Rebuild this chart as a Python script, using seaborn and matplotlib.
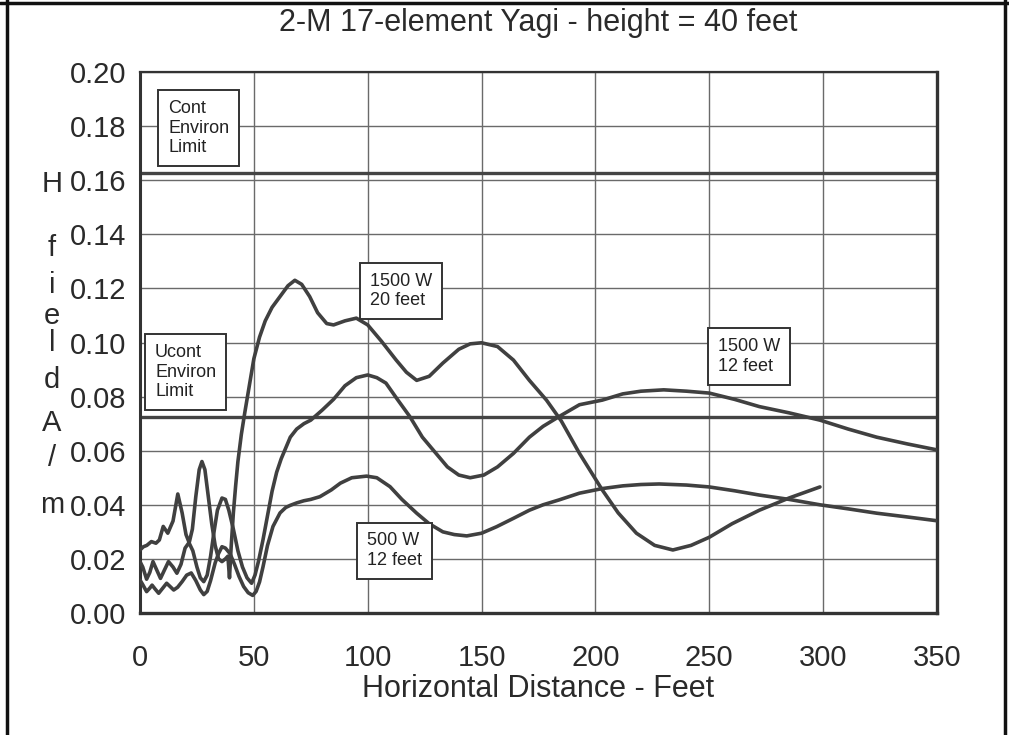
import matplotlib
matplotlib.use("Agg")
import matplotlib.pyplot as plt
from matplotlib.lines import Line2D
import seaborn as sns
import pandas as pd

# ---------------- data ----------------
title = "2-M 17-element Yagi - height = 40 feet"
x_label = "Horizontal Distance - Feet"
y_letters = ["H", "f", "i", "e", "l", "d", "A", "/", "m"]

x_ticks = [0, 50, 100, 150, 200, 250, 300, 350]
y_ticks = [0.00, 0.02, 0.04, 0.06, 0.08, 0.10, 0.12, 0.14, 0.16, 0.18, 0.20]

cont_limit = 0.1625
ucont_limit = 0.0725

# 1500 W, 20 feet
a_x = [0, 1.5, 3, 5, 7, 8.5, 10.2, 12.2, 14.5, 16.6, 18.5, 20.2, 21.6, 23, 24.5, 26,
       27.2, 28.5, 30, 31.5, 33, 34.5, 36, 37.5, 38.6, 39.3, 40, 41, 42, 43, 44.5, 46,
       48, 50, 52.5, 55, 58, 61.5, 65, 68, 71, 74.5, 78, 82, 85, 90, 95, 100, 106,
       112.5, 117, 121.5, 127, 133, 140, 145, 150, 157, 164, 171, 178.5, 185, 193, 203,
       210, 218, 226, 234, 242, 250, 260, 272, 285, 298.6]
a_y = [0.0233, 0.0245, 0.025, 0.0264, 0.0258, 0.027, 0.032, 0.0295, 0.034, 0.044,
       0.037, 0.029, 0.026, 0.031, 0.043, 0.053, 0.056, 0.053, 0.043, 0.033, 0.025,
       0.020, 0.019, 0.020, 0.021, 0.013, 0.024, 0.037, 0.047, 0.056, 0.066, 0.074,
       0.084, 0.094, 0.102, 0.108, 0.113, 0.117, 0.121, 0.123, 0.1215, 0.117, 0.111,
       0.107, 0.1065, 0.108, 0.109, 0.1065, 0.1005, 0.0935, 0.089, 0.086, 0.0875,
       0.0924, 0.0975, 0.0995, 0.0999, 0.0985, 0.0935, 0.086, 0.0787, 0.071, 0.059,
       0.0455, 0.037, 0.0295, 0.025, 0.0233, 0.025, 0.028, 0.033, 0.038, 0.0425, 0.0466]

# 1500 W, 12 feet
b_x = [0, 1.2, 2.9, 4.3, 5.7, 7.3, 9, 10.8, 12.5, 14.5, 16.2, 18, 19.8, 21.5, 23.2,
       25, 26.5, 28, 29.5, 31, 32.5, 34, 36, 37.5, 39, 41, 43, 45, 47, 49, 50.5, 52,
       54, 56, 58, 60, 62, 64, 66, 68.8, 72, 75, 80, 85, 90, 95, 100, 104, 108, 113,
       118.5, 124, 130, 135, 140, 145, 151, 157, 164, 171, 177, 184, 193, 203, 212,
       220, 230, 240, 250, 261, 272, 285, 298.6, 311, 323.5, 337, 350]
b_y = [0.019, 0.017, 0.0125, 0.015, 0.019, 0.016, 0.0128, 0.016, 0.019, 0.017,
       0.0147, 0.018, 0.024, 0.026, 0.023, 0.017, 0.013, 0.0116, 0.014, 0.021, 0.030,
       0.038, 0.0425, 0.042, 0.038, 0.031, 0.023, 0.017, 0.013, 0.011, 0.014, 0.019,
       0.027, 0.036, 0.045, 0.052, 0.057, 0.061, 0.065, 0.068, 0.070, 0.0713, 0.075,
       0.079, 0.084, 0.087, 0.088, 0.087, 0.085, 0.079, 0.0726, 0.065, 0.059, 0.054,
       0.051, 0.050, 0.051, 0.054, 0.059, 0.065, 0.069, 0.0726, 0.077, 0.0787, 0.081,
       0.082, 0.0825, 0.082, 0.0813, 0.079, 0.0763, 0.074, 0.0713, 0.068, 0.065,
       0.0625, 0.0603]

# 500 W, 12 feet
c_x = [0, 1.2, 2.9, 4.3, 5.3, 6.7, 8.2, 10, 11.7, 13.2, 14.8, 16.5, 18.5, 20.5, 22.5,
       24.5, 26.5, 28, 29.5, 31, 33, 34.5, 36, 37.5, 39.5, 41.5, 43.5, 45.5, 47.5,
       49.5, 51, 52.5, 54, 56, 58.4, 61.5, 64, 66, 68.8, 72, 75, 79, 84, 88, 93, 99.5,
       104, 109.8, 115, 121.5, 127, 133, 138, 143.5, 150, 156.6, 164, 171, 177, 184,
       193, 203, 212, 220, 228, 240, 250, 261, 272, 285, 298.6, 311, 323.5, 337, 350]
c_y = [0.0122, 0.0105, 0.0079, 0.0092, 0.0103, 0.0088, 0.0073, 0.0092, 0.011, 0.0098,
       0.0085, 0.0095, 0.0116, 0.014, 0.0148, 0.012, 0.0085, 0.0068, 0.008, 0.012,
       0.0185, 0.022, 0.0245, 0.024, 0.022, 0.018, 0.0135, 0.0098, 0.0075, 0.0065,
       0.008, 0.0115, 0.017, 0.025, 0.032, 0.037, 0.039, 0.0398, 0.0407, 0.0415,
       0.042, 0.043, 0.0455, 0.048, 0.050, 0.0506, 0.05, 0.0467, 0.042, 0.0369, 0.033,
       0.030, 0.029, 0.0285, 0.0295, 0.0319, 0.035, 0.038, 0.040, 0.0418, 0.0443,
       0.046, 0.047, 0.0475, 0.0477, 0.0473, 0.0466, 0.0452, 0.0436, 0.042, 0.040,
       0.0385, 0.0369, 0.0355, 0.0341]

labels = ["Cont\nEnviron\nLimit", "Ucont\nEnviron\nLimit",
          "1500 W\n20 feet", "500 W\n12 feet", "1500 W\n12 feet"]
label_x = [12.3, 6.6, 101.0, 99.5, 253.9]
label_y = [0.1792, 0.0890, 0.1190, 0.0230, 0.0948]

# ---------------- style ----------------
sns.set_theme(style="white")
plt.rcParams["font.family"] = ["Liberation Sans", "DejaVu Sans"]

W, H = 1009, 735
fig = plt.figure(figsize=(W / 100, H / 100), dpi=100)
fig.patch.set_facecolor("white")
ax = fig.add_axes([140 / W, 1 - 613 / H, (937 - 140) / W, (613 - 72) / H])
ax.set_facecolor("white")

ax.set_xlim(0, 350)
ax.set_ylim(0, 0.2)
ax.set_xticks(x_ticks)
ax.set_yticks(y_ticks)
ax.set_xticklabels([str(v) for v in x_ticks])
ax.set_yticklabels([f"{v:.2f}" for v in y_ticks])
ax.tick_params(axis="both", length=0, labelsize=21, colors="#2a2a2a")
ax.tick_params(axis="x", pad=22)
ax.tick_params(axis="y", pad=10)
ax.grid(True, color="#6a6a6a", linewidth=1.0, zorder=0)
ax.set_axisbelow(True)

for side, lw in [("left", 2.2), ("bottom", 2.4), ("right", 2.4), ("top", 1.6)]:
    ax.spines[side].set_visible(True)
    ax.spines[side].set_color("#333333")
    ax.spines[side].set_linewidth(lw)

# limit lines
ax.axhline(cont_limit, color="#444444", lw=2.4, zorder=2)
ax.axhline(ucont_limit, color="#444444", lw=2.4, zorder=2)

curve_color = "#404040"
for xs, ys in [(a_x, a_y), (b_x, b_y), (c_x, c_y)]:
    df = pd.DataFrame({"x": xs, "y": ys})
    sns.lineplot(data=df, x="x", y="y", ax=ax, color=curve_color, lw=2.6,
                 estimator=None, sort=False, zorder=3)

ax.set_xlabel("")
ax.set_ylabel("")

for txt, lx, ly in zip(labels, label_x, label_y):
    ax.text(lx, ly, txt, ha="left", va="center", fontsize=13, color="#222222",
            linespacing=1.2, zorder=6,
            bbox=dict(boxstyle="square,pad=0.55", fc="white", ec="#333333", lw=1.4))

# title and x label
fig.text((140 + 937) / 2 / W, 1 - 23 / H, title, ha="center", va="center",
         fontsize=22, color="#2a2a2a")
fig.text((140 + 937) / 2 / W, 1 - 689 / H, x_label, ha="center", va="center",
         fontsize=22, color="#2a2a2a")

# stacked y label letters
letter_py = [184, 248, 285, 316, 343, 380, 423, 458, 505]
for ch, py in zip(y_letters, letter_py):
    fig.text(52 / W, 1 - py / H, ch, ha="center", va="center", fontsize=21,
             color="#2a2a2a")

# page border
for (x0, y0, x1, y1) in [(7, 0, 7, H), (0, 3, W, 3), (1005, 0, 1005, H)]:
    fig.add_artist(Line2D([x0 / W, x1 / W], [1 - y0 / H, 1 - y1 / H],
                          transform=fig.transFigure, color="#111111", lw=2.5))

fig.savefig("out.png", dpi=100, facecolor="white")
